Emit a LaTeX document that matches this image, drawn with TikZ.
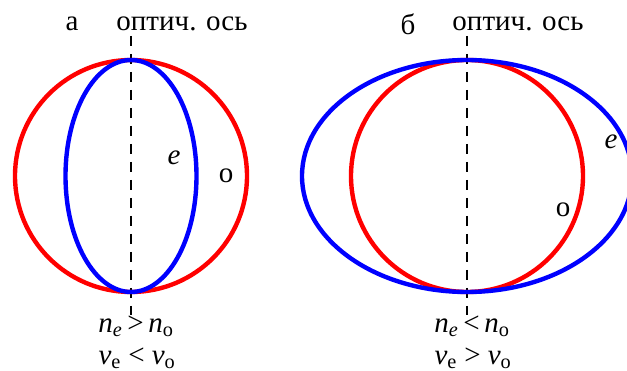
\documentclass[tikz,border=0pt]{standalone}
\usepackage{fontspec}
\setmainfont{Liberation Serif}
\newcommand{\ind}[2]{\textit{#1}\textsubscript{#2}}
\begin{document}
\begin{tikzpicture}[x=1pt,y=-1pt,font=\fontsize{29}{34}\selectfont]
        \useasboundingbox (0,0) rectangle (627,371);
        \clip (0,0) rectangle (627,371);

        % Eixos opticos
        \draw[line width=2.2pt, dash pattern=on 10pt off 8pt] (131,36) -- (131,315);
        \draw[line width=2.2pt, dash pattern=on 10pt off 8pt] (467,36) -- (467,315);

        % Superficies (a)
        \draw[red, line width=4.4pt] (131,176) ellipse (116 and 116);
        \draw[blue, line width=4.4pt] (131,176) ellipse (65.5 and 116);

        % Superficies (b)
        \draw[red, line width=4.4pt] (467,176) ellipse (116 and 116);
        \draw[blue, line width=4.4pt] (467,176) ellipse (165 and 116);

        % Titulos
        \node (a) at (72,24) {а};
        \node (eixoa) at (182,24) {оптич. ось};
        \node (b) at (408,24) {б};
        \node (eixob) at (518,24) {оптич. ось};

        % Identificacao das ondas
        \node (ea) at (174,158) {\textit{e}};
        \node (oa) at (226,176) {о};
        \node (eb) at (611,142) {\textit{e}};
        \node (ob) at (563,210) {о};

        % Relacoes
        \node[inner sep=0pt] (na) at (136,326) {\ind{n}{\textit{e}}\,>\,\ind{n}{o}};
        \node[inner sep=0pt] (va) at (137,358) {\ind{v}{e} < \ind{v}{o}};
        \node[inner sep=0pt] (nb) at (472,326) {\ind{n}{\textit{e}}\,<\,\ind{n}{o}};
        \node[inner sep=0pt] (vb) at (473,358) {\ind{v}{e} > \ind{v}{o}};
    \end{tikzpicture}
\end{document}
